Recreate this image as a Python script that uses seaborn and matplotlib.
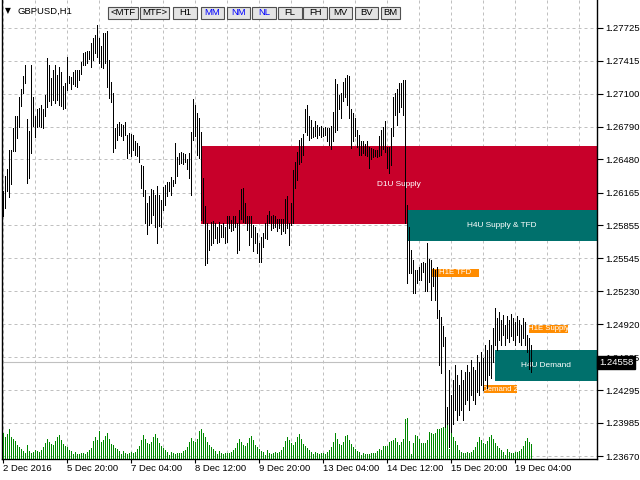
import numpy as np
import pandas as pd
import matplotlib
matplotlib.use("Agg")
import matplotlib.pyplot as plt
import seaborn as sns
from matplotlib import font_manager
from matplotlib.patches import Rectangle

# ---------------- data (GBPUSD H1) ----------------
highs = [
    1.2618, 1.2632, 1.2639, 1.2657, 1.2657, 1.2678, 1.2689, 1.2689, 1.2707, 1.2715,
    1.2727, 1.2737, 1.2686, 1.2675, 1.2737, 1.2707, 1.2689, 1.2696, 1.2697, 1.2700,
    1.2696, 1.2709, 1.2744, 1.2737, 1.2725, 1.2733, 1.2737, 1.2728, 1.2736, 1.2731,
    1.2718, 1.2720, 1.2745, 1.2727, 1.2726, 1.2731, 1.2733, 1.2733, 1.2733, 1.2740,
    1.2749, 1.2750, 1.2751, 1.2751, 1.2758, 1.2763, 1.2766, 1.2775, 1.2763, 1.2755,
    1.2768, 1.2768, 1.2770, 1.2742, 1.2721, 1.2711, 1.2678, 1.2682, 1.2683, 1.2682,
    1.2681, 1.2683, 1.2671, 1.2673, 1.2672, 1.2671, 1.2665, 1.2664, 1.2661, 1.2643,
    1.2642, 1.2619, 1.2607, 1.2613, 1.2620, 1.2619, 1.2614, 1.2623, 1.2614, 1.2610,
    1.2622, 1.2624, 1.2627, 1.2627, 1.2631, 1.2629, 1.2664, 1.2650, 1.2654, 1.2655,
    1.2654, 1.2653, 1.2648, 1.2654, 1.2674, 1.2705, 1.2700, 1.2692, 1.2687, 1.2674,
    1.2630, 1.2604, 1.2588, 1.2581, 1.2589, 1.2590, 1.2588, 1.2584, 1.2589, 1.2586,
    1.2588, 1.2584, 1.2594, 1.2594, 1.2591, 1.2594, 1.2594, 1.2588, 1.2600, 1.2620,
    1.2621, 1.2607, 1.2594, 1.2594, 1.2594, 1.2586, 1.2584, 1.2578, 1.2569, 1.2575,
    1.2578, 1.2588, 1.2595, 1.2599, 1.2594, 1.2595, 1.2594, 1.2592, 1.2592, 1.2592,
    1.2592, 1.2611, 1.2613, 1.2588, 1.2607, 1.2638, 1.2646, 1.2655, 1.2666, 1.2668,
    1.2672, 1.2696, 1.2700, 1.2689, 1.2685, 1.2679, 1.2684, 1.2681, 1.2679, 1.2680,
    1.2678, 1.2679, 1.2678, 1.2678, 1.2680, 1.2693, 1.2724, 1.2719, 1.2709, 1.2711,
    1.2721, 1.2725, 1.2728, 1.2727, 1.2696, 1.2692, 1.2687, 1.2676, 1.2671, 1.2665,
    1.2665, 1.2663, 1.2665, 1.2660, 1.2659, 1.2658, 1.2657, 1.2657, 1.2670, 1.2676,
    1.2679, 1.2684, 1.2660, 1.2660, 1.2678, 1.2707, 1.2711, 1.2715, 1.2720, 1.2720,
    1.2723, 1.2723, 1.2605, 1.2584, 1.2562, 1.2553, 1.2543, 1.2543, 1.2546, 1.2550,
    1.2551, 1.2550, 1.2569, 1.2554, 1.2553, 1.2545, 1.2543, 1.2546, 1.2505, 1.2499,
    1.2490, 1.2480, 1.2414, 1.2449, 1.2425, 1.2439, 1.2453, 1.2444, 1.2434, 1.2449,
    1.2439, 1.2447, 1.2453, 1.2447, 1.2458, 1.2451, 1.2449, 1.2463, 1.2456, 1.2466,
    1.2460, 1.2472, 1.2468, 1.2477, 1.2472, 1.2488, 1.2507, 1.2498, 1.2504, 1.2496,
    1.2501, 1.2491, 1.2500, 1.2496, 1.2502, 1.2498, 1.2494, 1.2500, 1.2496, 1.2491,
    1.2498, 1.2494, 1.2482, 1.2479, 1.2472,
]
lows = [
    1.2594, 1.2602, 1.2618, 1.2612, 1.2625, 1.2656, 1.2656, 1.2668, 1.2679, 1.2699,
    1.2711, 1.2720, 1.2626, 1.2630, 1.2654, 1.2680, 1.2669, 1.2679, 1.2680, 1.2679,
    1.2678, 1.2689, 1.2698, 1.2703, 1.2700, 1.2704, 1.2701, 1.2704, 1.2700, 1.2699,
    1.2696, 1.2697, 1.2714, 1.2720, 1.2715, 1.2719, 1.2718, 1.2717, 1.2723, 1.2729,
    1.2737, 1.2737, 1.2739, 1.2743, 1.2736, 1.2742, 1.2749, 1.2745, 1.2739, 1.2736,
    1.2735, 1.2739, 1.2717, 1.2706, 1.2702, 1.2655, 1.2659, 1.2666, 1.2671, 1.2670,
    1.2666, 1.2671, 1.2649, 1.2654, 1.2651, 1.2657, 1.2652, 1.2651, 1.2646, 1.2621,
    1.2613, 1.2588, 1.2577, 1.2586, 1.2588, 1.2595, 1.2584, 1.2569, 1.2585, 1.2584,
    1.2600, 1.2605, 1.2613, 1.2618, 1.2614, 1.2623, 1.2626, 1.2632, 1.2644, 1.2645,
    1.2644, 1.2646, 1.2639, 1.2630, 1.2614, 1.2666, 1.2670, 1.2652, 1.2649, 1.2591,
    1.2588, 1.2548, 1.2550, 1.2562, 1.2567, 1.2569, 1.2574, 1.2569, 1.2570, 1.2575,
    1.2575, 1.2569, 1.2570, 1.2583, 1.2580, 1.2581, 1.2584, 1.2559, 1.2562, 1.2592,
    1.2589, 1.2588, 1.2581, 1.2567, 1.2575, 1.2561, 1.2569, 1.2559, 1.2551, 1.2551,
    1.2565, 1.2574, 1.2573, 1.2588, 1.2581, 1.2583, 1.2584, 1.2580, 1.2583, 1.2577,
    1.2580, 1.2578, 1.2583, 1.2567, 1.2586, 1.2588, 1.2621, 1.2629, 1.2644, 1.2646,
    1.2652, 1.2674, 1.2671, 1.2666, 1.2668, 1.2669, 1.2670, 1.2668, 1.2671, 1.2669,
    1.2670, 1.2671, 1.2665, 1.2662, 1.2658, 1.2665, 1.2674, 1.2676, 1.2696, 1.2687,
    1.2703, 1.2707, 1.2700, 1.2687, 1.2659, 1.2665, 1.2670, 1.2660, 1.2652, 1.2652,
    1.2654, 1.2652, 1.2651, 1.2640, 1.2648, 1.2650, 1.2651, 1.2650, 1.2651, 1.2652,
    1.2658, 1.2655, 1.2640, 1.2635, 1.2643, 1.2670, 1.2690, 1.2681, 1.2693, 1.2698,
    1.2690, 1.2588, 1.2531, 1.2540, 1.2540, 1.2522, 1.2522, 1.2531, 1.2534, 1.2534,
    1.2541, 1.2523, 1.2523, 1.2532, 1.2515, 1.2528, 1.2515, 1.2498, 1.2453, 1.2446,
    1.2471, 1.2389, 1.2385, 1.2376, 1.2382, 1.2397, 1.2411, 1.2401, 1.2406, 1.2411,
    1.2401, 1.2416, 1.2420, 1.2411, 1.2425, 1.2420, 1.2416, 1.2428, 1.2425, 1.2434,
    1.2430, 1.2439, 1.2432, 1.2444, 1.2441, 1.2456, 1.2472, 1.2468, 1.2477, 1.2472,
    1.2482, 1.2472, 1.2479, 1.2475, 1.2481, 1.2477, 1.2472, 1.2482, 1.2475, 1.2472,
    1.2479, 1.2472, 1.2466, 1.2450, 1.2447,
]
volumes = [
    2600, 2200, 2500, 3000, 2200, 2000, 1800, 1400, 1200, 1000, 800, 600,
    1400, 800, 600, 700, 900, 800, 700, 900, 1200, 1600, 2000, 1700,
    1500, 1400, 1800, 2200, 2400, 1900, 1500, 1300, 1200, 900, 800, 500,
    700, 500, 500, 600, 600, 500, 700, 900, 1100, 1800, 2200, 1900,
    2800, 1700, 1900, 2300, 2600, 2000, 1500, 1400, 1100, 1000, 800, 500,
    800, 600, 500, 600, 700, 600, 700, 1000, 1300, 1900, 2400, 2000,
    1600, 1500, 1700, 2200, 2500, 2100, 1600, 1300, 1100, 900, 700, 400,
    700, 600, 500, 600, 600, 600, 800, 900, 1200, 1700, 2100, 1800,
    1700, 2000, 2800, 3000, 2600, 2200, 1700, 1400, 1200, 1000, 800, 500,
    800, 600, 500, 600, 600, 600, 700, 900, 1100, 1600, 2000, 1700,
    1400, 1300, 1600, 2100, 2300, 1900, 1400, 1200, 1000, 800, 700, 400,
    900, 600, 500, 600, 700, 600, 700, 900, 1200, 1800, 2200, 1900,
    1600, 1400, 1700, 2200, 2500, 2000, 1500, 1300, 1100, 900, 700, 500,
    700, 600, 500, 600, 600, 500, 700, 900, 1200, 1700, 2600, 2000,
    1500, 1400, 1700, 2300, 2400, 1900, 1500, 1200, 1000, 800, 700, 400,
    600, 500, 500, 500, 600, 600, 600, 800, 1000, 900, 1300, 1300,
    1300, 1700, 1800, 1900, 2100, 1700, 1400, 1700, 2000, 4000, 4100, 1800,
    500, 1600, 2400, 2300, 2000, 1600, 1600, 1600, 1900, 2700, 2600, 2500,
    2600, 3000, 3000, 3100, 3200, 3100, 3400, 1000, 2600, 2200, 1800, 1400,
    900, 700, 600, 600, 700, 600, 700, 900, 1200, 1700, 2200, 1900,
    1600, 1500, 1800, 2200, 2400, 2000, 1600, 1300, 1100, 900, 700, 400,
    1000, 700, 600, 600, 700, 700, 800, 1000, 1300, 1800, 2100, 1700, 1500,
]

time_labels = ["2 Dec 2016", "5 Dec 20:00", "7 Dec 04:00", "8 Dec 12:00",
               "9 Dec 20:00", "13 Dec 04:00", "14 Dec 12:00", "15 Dec 20:00",
               "19 Dec 04:00"]
label_bars = [0, 32, 64, 96, 128, 160, 192, 224, 256]
grid_bars = [0, 16, 32, 48, 64, 80, 96, 112, 128, 144, 160, 176, 192, 208,
             224, 240, 256, 272, 288]
price_ticks = [1.27725, 1.27415, 1.27100, 1.26790, 1.26480, 1.26165, 1.25855,
               1.25545, 1.25230, 1.24920, 1.24605, 1.24295, 1.23985, 1.23670]
last_price = 1.24558

zone_names = ["D1U Supply", "H4U Supply & TFD", "H4U Demand"]
zone_start = [99, 202, 246]
zone_top = [1.2661, 1.2600, 1.2468]
zone_bottom = [1.2587, 1.2571, 1.2438]
zone_colors = ["#C8002A", "#00706C", "#00706C"]

tag_names = ["H1E TFD", "H1E Supply", "Demand 2"]
tag_start = [214.3, 262.8, 240.3]
tag_end = [237.8, 282.3, 256.8]
tag_top = [1.2544, 1.2491, 1.2434]
tag_bottom = [1.2537, 1.2484, 1.2427]

buttons = ["<MTF", "MTF>", "H1", "MM", "NM", "NL", "FL", "FH", "MV", "BV", "BM"]
button_blue = [False, False, False, True, True, True, False, False, False, False, False]
button_left = [108, 140, 173, 201, 227, 252, 278, 303, 329, 355, 381]
button_right = [138, 169, 197, 224, 250, 276, 302, 327, 352, 378, 400]

# ---------------- style ----------------
sns.set_theme(style="white")
names = {f.name for f in font_manager.fontManager.ttflist}
if "Liberation Sans Narrow" in names:
    base_font, fs = "Liberation Sans Narrow", 8.0
else:
    base_font, fs = "Liberation Sans", 6.8
plt.rcParams["font.family"] = [base_font, "DejaVu Sans"]

W, H = 640, 480
PLOT_H = 458.5
X_MIN, X_MAX = -0.665, 296.835
Y_MIN, Y_MAX = 1.236480, 1.2799
GREEN = "#008800"

fig = plt.figure(figsize=(6.4, 4.8), dpi=100, facecolor="white")
rect = [2 / W, (H - PLOT_H) / H, 595 / W, PLOT_H / H]
ax = fig.add_axes(rect)
ax.set_facecolor("white")

df = pd.DataFrame({"bar": np.arange(len(highs)), "high": highs, "low": lows,
                   "volume": volumes})

# grid
ax.set_xticks(label_bars)
ax.set_xticklabels(time_labels)
ax.set_xticks(grid_bars, minor=True)
ax.yaxis.tick_right()
ax.set_yticks(price_ticks)
ax.set_yticklabels([f"{p:.5f}" for p in price_ticks])
grid_kw = dict(color="#C0C0C0", linestyle=(0, (3, 3)), linewidth=0.72)
ax.grid(axis="y", which="major", **grid_kw)
ax.grid(axis="x", which="both", **grid_kw)
ax.set_axisbelow(True)

# current price line
ax.axhline(last_price, color="#C0C0C0", linewidth=0.8, zorder=0.8)

# zones
for name, s, top, bot, col in zip(zone_names, zone_start, zone_top, zone_bottom, zone_colors):
    ax.bar(x=s, height=top - bot, width=X_MAX - s, bottom=bot, align="edge",
           color=col, linewidth=0, zorder=1)
    ax.text((s + X_MAX) / 2, (top + bot) / 2, name, color="white",
            fontsize=fs * 0.88, ha="center", va="center", zorder=1.5)

# orange tags
for name, s, e, top, bot in zip(tag_names, tag_start, tag_end, tag_top, tag_bottom):
    ax.bar(x=s, height=top - bot, width=e - s, bottom=bot, align="edge",
           color="#FF8C00", linewidth=0, zorder=1.2)
    ax.text((s + e) / 2, (top + bot) / 2, name, color="white",
            fontsize=fs * 0.82, ha="center", va="center", zorder=1.5)

# price bars (high-low)
ax.vlines(df["bar"], df["low"], df["high"], colors="black", linewidth=0.5,
          antialiased=False, zorder=3)

ax.set_xlim(X_MIN, X_MAX)
ax.set_ylim(Y_MIN, Y_MAX)

ax.spines["top"].set_visible(False)
for side in ["left", "right", "bottom"]:
    ax.spines[side].set_visible(True)
    ax.spines[side].set_color("black")
    ax.spines[side].set_linewidth(1.0)

ax.tick_params(axis="y", which="major", right=True, left=False, direction="out",
               length=4, width=0.8, pad=2, labelsize=fs, colors="black")
ax.tick_params(axis="x", which="major", bottom=True, direction="out",
               length=3, width=0.8, pad=1.0, labelsize=fs, colors="black")
ax.tick_params(axis="x", which="minor", length=0)
for lab in ax.get_xticklabels():
    lab.set_ha("left")
ax.set_xlabel("")
ax.set_ylabel("")

# volumes (overlay axis with its own scale) drawn as seaborn bars
axv = fig.add_axes(rect)
axv.patch.set_visible(False)
sns.barplot(data=df, x="bar", y="volume", native_scale=True, color=GREEN,
            saturation=1, width=0.5, ax=axv)
for p in axv.patches:
    p.set_facecolor(GREEN)
    p.set_edgecolor(GREEN)
    p.set_linewidth(0.0)
    p.set_antialiased(True)
axv.set_xlim(X_MIN, X_MAX)
axv.set_ylim(0, PLOT_H * 100)
axv.set_axis_off()

# last price tag on the right axis
ax.text(1.0035, last_price, f"{last_price:.5f}", transform=ax.get_yaxis_transform(),
        ha="left", va="center", color="white", fontsize=fs, zorder=10, clip_on=False,
        bbox=dict(boxstyle="square,pad=0.18", fc="black", ec="black"))

# header: symbol + buttons
fig.text(5 / W, 1 - 10.5 / H, "\u25BC", fontsize=5.5, family="DejaVu Sans",
         ha="left", va="center", color="black")
fig.text(17 / W, 1 - 11 / H, "GBPUSD,H1", fontsize=fs, ha="left", va="center",
         color="black")
for lab, blue, x0, x1 in zip(buttons, button_blue, button_left, button_right):
    fig.add_artist(Rectangle((x0 / W, 1 - 18.5 / H), (x1 - x0) / W, 11.5 / H,
                             transform=fig.transFigure, facecolor="#E4E4E4",
                             edgecolor="#505050", linewidth=0.8))
    fig.text((x0 + x1) / 2 / W, 1 - 12.8 / H, lab, fontsize=fs, ha="center",
             va="center", color="#0000FF" if blue else "black")

fig.savefig("out.png", dpi=100, facecolor="white")
